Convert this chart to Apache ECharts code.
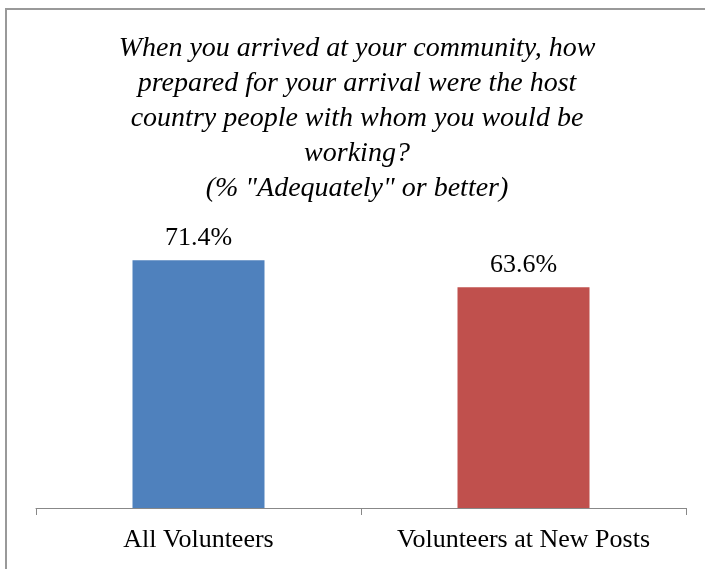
<!DOCTYPE html>
<html>
<head>
<meta charset="utf-8">
<script src="https://cdn.jsdelivr.net/npm/echarts@6/dist/echarts.min.js"></script>
<style>html,body{margin:0;padding:0;background:#fff;}#c{width:705px;height:569px;}</style>
</head>
<body>
<div id="c"></div>
<script>
const categories = ["All Volunteers", "Volunteers at New Posts"];
const values = [71.4, 63.6];
const colors = ["#4F81BD", "#C0504D"];
const subtitleLines = [
  "When you arrived at your community, how",
  "prepared for your arrival were the host",
  "country people with whom you would be",
  "working?",
  "(% \"Adequately\" or better)"
];

const chart = echarts.init(document.getElementById('c'));
chart.setOption({
  animation: false,
  backgroundColor: '#fff',
  graphic: [{
    type: 'rect',
    shape: { x: 6, y: 9, width: 760, height: 620 },
    style: { fill: 'none', stroke: '#999', lineWidth: 2 },
    silent: true
  }],
  title: {
    text: subtitleLines.join('\n'),
    left: 352, textAlign: 'center', top: 26,
    textStyle: {
      fontFamily: 'Liberation Serif', fontStyle: 'italic', fontWeight: 'normal',
      fontSize: 28, lineHeight: 35, color: '#000'
    }
  },
  grid: { left: 36, right: 19, top: 161, bottom: 61 },
  xAxis: {
    type: 'category', data: categories,
    axisLine: { lineStyle: { color: '#888', width: 1 } },
    axisTick: { show: true, length: 7, interval: 0, lineStyle: { color: '#888' } },
    axisLabel: { interval: 0, fontFamily: 'Liberation Serif', fontSize: 26, color: '#000', margin: 19 }
  },
  yAxis: { type: 'value', min: 0, max: 100, show: false, splitLine: { show: false } },
  series: [{
    type: 'bar', barWidth: 132,
    data: values.map((v, i) => ({ value: v, itemStyle: { color: colors[i] } })),
    label: {
      show: true, position: 'top', distance: 9,
      formatter: p => p.value.toFixed(1) + '%',
      fontFamily: 'Liberation Serif', fontSize: 26, color: '#000'
    }
  }]
});
</script>
</body>
</html>
